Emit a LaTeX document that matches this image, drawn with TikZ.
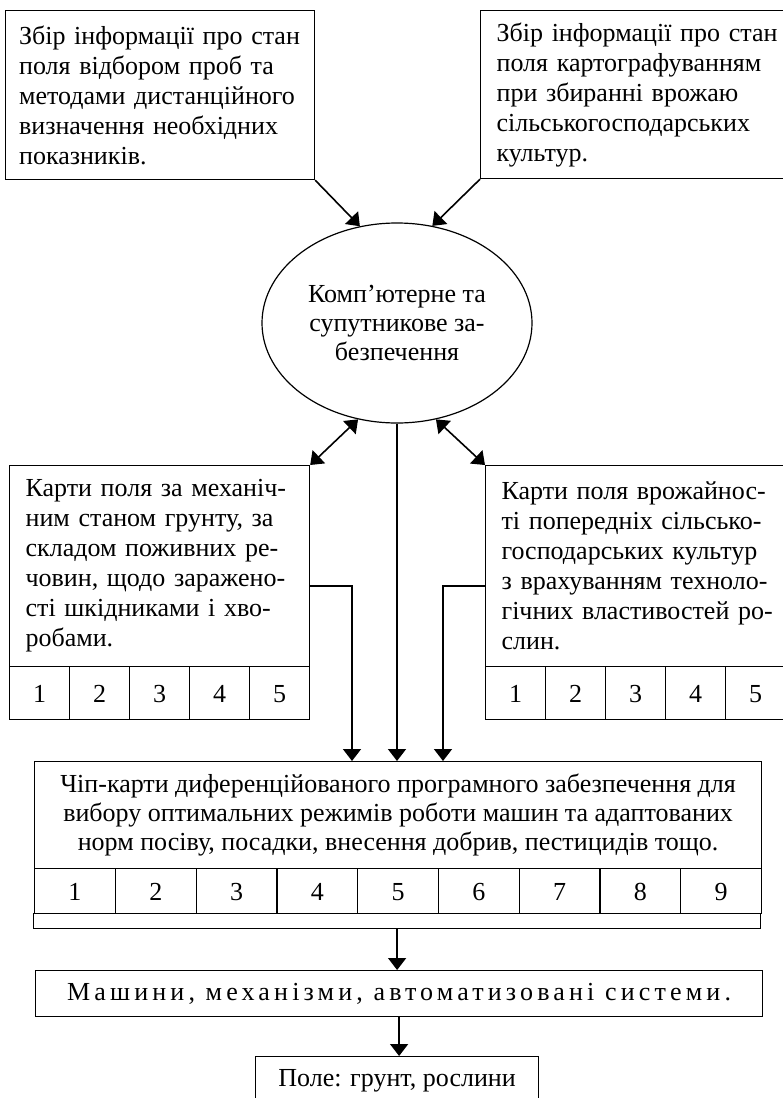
\documentclass[tikz,border=0pt]{standalone}
\usepackage{fontspec}
\setmainfont{Liberation Serif}
\newfontfamily\spacedfont[LetterSpace=16]{Liberation Serif}
\usetikzlibrary{arrows.meta,shapes.geometric}
\newcommand\jline[1]{\makebox[282pt][s]{#1}}
\begin{document}
\begin{tikzpicture}[x=1pt,y=-1pt,
  font=\fontsize{26}{30}\selectfont,
  box/.style={draw, line width=1.2pt, inner sep=0pt, anchor=north west},
  cell/.style={draw, line width=1.2pt, inner sep=0pt, anchor=north west, text height=18pt, text depth=0pt},
  conn/.style={line width=1.6pt, -{Triangle[length=12pt,width=18pt]}},
  dconn/.style={line width=1.6pt, {Triangle[length=12pt,width=18pt]}-{Triangle[length=12pt,width=18pt]}}]
\useasboundingbox (0,0) rectangle (783,1098);
\fill[white] (0,0) rectangle (783,1098);

% top boxes
\node[box, minimum width=309pt, minimum height=169pt, text width=282pt, align=left] (tl) at (5,10)
  {\jline{Збір інформації про стан}\\\jline{поля відбором проб та}\\\jline{методами дистанційного}\\\jline{визначення необхідних}\\показників.};
\node[box, minimum width=314pt, minimum height=168pt, text width=282pt, align=left] (tr) at (480,10)
  {\jline{Збір інформації про стан}\\\jline{поля картографуванням}\\\jline{при збиранні врожаю}\\сільськогосподарських\\культур.};

% ellipse
\node[draw, ellipse, line width=1.2pt, minimum width=270pt, minimum height=200pt, inner sep=0pt, align=center, font=\fontsize{26}{29}\selectfont] (ell) at (397,323)
  {Комп’ютерне та\\супутникове за-\\безпечення};

% middle boxes
\node[box, minimum width=300pt, minimum height=201pt, text width=268pt, align=left] (ml) at (9,465)
  {\mbox{Карти поля за механіч-}\\\mbox{ним станом грунту, за}\\\mbox{складом поживних ре-}\\\mbox{човин, щодо зараженo-}\\\mbox{сті шкідниками і хво-}\\\mbox{робами.}};
\foreach \n in {1,...,5}
  \node[cell, minimum width=60pt, minimum height=53pt] (mlc\n) at ({9+60*(\n-1)},666) {\n};

\node[box, minimum width=300pt, minimum height=201pt, text width=268pt, align=left] (mr) at (485,465)
  {\mbox{Карти поля врожайнос-}\\\mbox{ті попередніх сільсько-}\\\mbox{господарських культур}\\\mbox{з врахуванням техноло-}\\\mbox{гічних властивостей ро-}\\\mbox{слин.}};
\foreach \n in {1,...,5}
  \node[cell, minimum width=60pt, minimum height=53pt] (mrc\n) at ({485+60*(\n-1)},666) {\n};

% chip box
\node[box, minimum width=727pt, minimum height=107pt, align=center, font=\fontsize{26}{29}\selectfont] (chip) at (34,761)
  {Чіп-карти диференційованого програмного забезпечення для\\вибору оптимальних режимів роботи машин та адаптованих\\норм посіву, посадки, внесення добрив, пестицидів тощо.};
\foreach \n in {1,...,9}
  \node[cell, minimum width=80.78pt, minimum height=45pt] (chc\n) at ({34+80.78*(\n-1)},868) {\n};
\node[box, minimum width=727pt, minimum height=15pt] (chipbar) at (33,913) {};

% machines and field
\node[box, minimum width=727pt, minimum height=46pt] (mach) at (35,970)
  {\spacedfont Машини, механізми, автоматизовані системи.};
\node[box, minimum width=283pt, minimum height=48pt] (pole) at (255,1056) {Поле: грунт, рослини};

% connectors
\draw[conn] (tl.south east) -- (ell.111.3);
\draw[conn] (tr.south west) -- (ell.70.2);
\draw[dconn] (ml.north east) -- (ell.248.3);
\draw[dconn] (mr.north west) -- (ell.292.4);
\draw[conn] (ell.south) -- (ell.south |- chip.north);
\coordinate (lj) at (352,586);
\coordinate (rj) at (443,586);
\draw[conn] (ml.east |- lj) -- (lj) -- (lj |- chip.north);
\draw[conn] (mr.west |- rj) -- (rj) -- (rj |- chip.north);
\draw[conn] (chipbar.south) -- (chipbar.south |- mach.north);
\draw[conn] (mach.south) -- (mach.south |- pole.north);
\end{tikzpicture}
\end{document}
